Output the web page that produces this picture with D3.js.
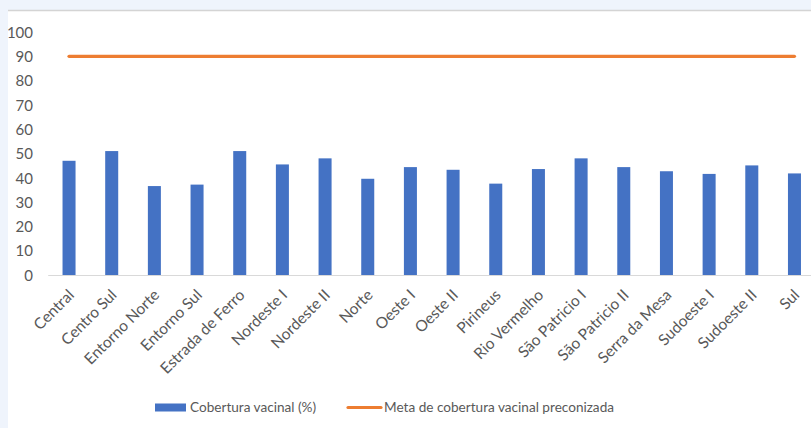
<!DOCTYPE html>
<html><head><meta charset="utf-8">
<script src="https://cdn.jsdelivr.net/npm/d3@7"></script>
<style>
html,body{margin:0;padding:0;background:#eff4fc;}
svg{display:block;}
</style></head>
<body>
<svg id="chart" width="811" height="428"></svg>
<script>
const categories = ["Central","Centro Sul","Entorno Norte","Entorno Sul","Estrada de Ferro","Nordeste I","Nordeste II","Norte","Oeste I","Oeste II","Pirineus","Rio Vermelho","São Patricio I","São Patricio II","Serra da Mesa","Sudoeste I","Sudoeste II","Sul"];
const coverage = [47,51,36.6,37.2,51,45.5,48,39.6,44.4,43.3,37.6,43.6,48,44.4,42.7,41.6,45.1,41.8];
const target = categories.map(() => 90);
const yTicks = [0,10,20,30,40,50,60,70,80,90,100];
const seriesNames = ["Cobertura vacinal (%)","Meta de cobertura vacinal preconizada"];

const W = 811, H = 428;
const svg = d3.select("#chart");
const font = "Lato, 'Open Sans', sans-serif";
const textColor = "#595959";

// panel
svg.append("rect").attr("x",8).attr("y",10).attr("width",W-8).attr("height",H-10).attr("fill","#ffffff");
svg.append("line").attr("x1",8).attr("x2",W).attr("y1",10.5).attr("y2",10.5).attr("stroke","#d4d4d4").attr("stroke-width",1.5);

const x = d3.scaleBand().domain(categories).range([47.7,815.8]).paddingInner(0.695).paddingOuter(0.3475);
const y = d3.scaleLinear().domain([0,100]).range([275,32]);

// y axis labels
const yAxis = d3.axisLeft(y).tickValues(yTicks).tickSize(0).tickPadding(0);
const gy = svg.append("g").attr("transform","translate(33,0)").call(yAxis);
gy.select(".domain").remove();
gy.selectAll("text").attr("font-family",font).attr("font-size","15px").attr("fill",textColor).attr("dy","0.35em");

// bars
svg.append("g").selectAll("rect").data(categories).join("rect")
  .attr("x",d=>x(d)).attr("width",x.bandwidth())
  .attr("y",(d,i)=>y(coverage[i])).attr("height",(d,i)=>y(0)-y(coverage[i]))
  .attr("fill","#4472c4");

// x axis
const xAxis = d3.axisBottom(x).tickSize(0).tickPadding(0);
const gx = svg.append("g").attr("transform",`translate(0,${y(0)})`).call(xAxis);
gx.select(".domain").attr("stroke","#d9d9d9").attr("stroke-width",1.2);
gx.selectAll("text")
  .attr("font-family",font).attr("font-size","15.5px").attr("fill",textColor)
  .attr("text-anchor","end").attr("dy",null).attr("y",0)
  .attr("transform","translate(6,21) rotate(-45)");

// target line
const line = d3.line().x((d,i)=>x(categories[i])+x.bandwidth()/2).y(d=>y(d));
svg.append("path").datum(target).attr("d",line).attr("fill","none")
  .attr("stroke","#ed7d31").attr("stroke-width",3.2).attr("stroke-linecap","round");

// legend
const lg = svg.append("g");
lg.append("rect").attr("x",155).attr("y",403.5).attr("width",31).attr("height",8).attr("fill","#4472c4");
lg.append("text").attr("x",190).attr("y",407.5).attr("dy","0.35em").text(seriesNames[0])
  .attr("font-family",font).attr("font-size","13.6px").attr("fill",textColor);
lg.append("line").attr("x1",348).attr("x2",381).attr("y1",407.5).attr("y2",407.5)
  .attr("stroke","#ed7d31").attr("stroke-width",3.2).attr("stroke-linecap","round");
lg.append("text").attr("x",384).attr("y",407.5).attr("dy","0.35em").text(seriesNames[1])
  .attr("font-family",font).attr("font-size","13.6px").attr("fill",textColor);
</script>
</body></html>
